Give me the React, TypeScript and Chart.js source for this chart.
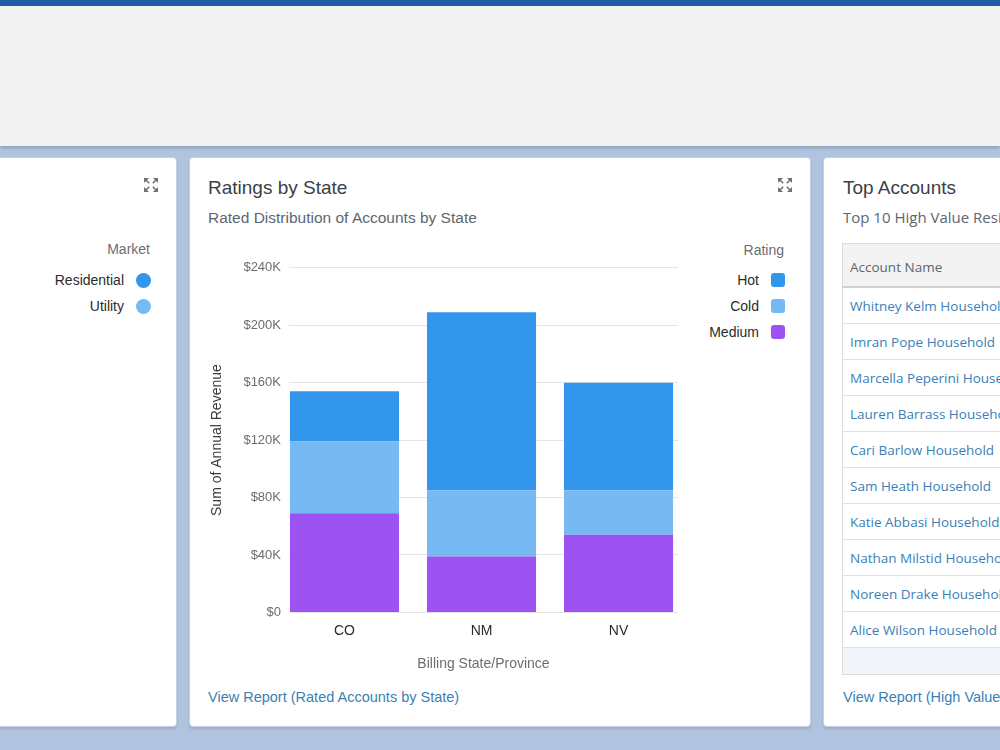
import React, { useEffect, useRef } from 'react';
import { Chart, registerables } from 'chart.js';

Chart.register(...registerables);

// ---- data ----
const categories = ['CO', 'NM', 'NV'];
const mediumValues = [69000, 39000, 54000];
const coldValues = [50000, 46000, 31000];
const hotValues = [35000, 124000, 75000];
const yTickValues = [0, 40000, 80000, 120000, 160000, 200000, 240000];
const ratingLegend = ['Hot', 'Cold', 'Medium'];
const ratingColors = ['#3296ED', '#77B9F2', '#9D53F2'];
const marketLegend = ['Residential', 'Utility'];
const marketColors = ['#3296ED', '#77B9F2'];
const accountNames = [
  'Whitney Kelm Household',
  'Imran Pope Household',
  'Marcella Peperini Household',
  'Lauren Barrass Household',
  'Cari Barlow Household',
  'Sam Heath Household',
  'Katie Abbasi Household',
  'Nathan Milstid Household',
  'Noreen Drake Household',
  'Alice Wilson Household',
];

const SANS = '"Liberation Sans", Arial, sans-serif';
const TABLE_FONT = '"Open Sans", "Noto Sans", sans-serif';
const LINK = '#3a7fb5';

function Txt(props: {
  x: number; y: number; size: number; color: string; text: string;
  align?: 'left' | 'right'; font?: string; weight?: number;
}) {
  const { x, y, size, color, text, align = 'left', font = SANS, weight = 400 } = props;
  const lh = Math.round(size * 1.25);
  const style: React.CSSProperties = {
    position: 'absolute',
    top: y - lh / 2,
    height: lh,
    lineHeight: lh + 'px',
    fontSize: size,
    fontFamily: font,
    fontWeight: weight,
    color,
    whiteSpace: 'nowrap',
  };
  if (align === 'left') style.left = x;
  else { style.right = 1000 - x; style.textAlign = 'right'; }
  return <div style={style}>{text}</div>;
}

function ExpandIcon({ cx, cy }: { cx: number; cy: number }) {
  const c = '#6f7174';
  return (
    <svg width={14} height={14} viewBox="0 0 14 14"
      style={{ position: 'absolute', left: cx - 7, top: cy - 7 }}>
      <polygon points="0,0 5,0 0,5" fill={c} />
      <polygon points="14,0 9,0 14,5" fill={c} />
      <polygon points="0,14 5,14 0,9" fill={c} />
      <polygon points="14,14 9,14 14,9" fill={c} />
      <line x1="1.5" y1="1.5" x2="5.2" y2="5.2" stroke={c} strokeWidth={1.6} />
      <line x1="12.5" y1="1.5" x2="8.8" y2="5.2" stroke={c} strokeWidth={1.6} />
      <line x1="1.5" y1="12.5" x2="5.2" y2="8.8" stroke={c} strokeWidth={1.6} />
      <line x1="12.5" y1="12.5" x2="8.8" y2="8.8" stroke={c} strokeWidth={1.6} />
    </svg>
  );
}

function Card({ left, width }: { left: number; width: number }) {
  return (
    <div style={{
      position: 'absolute', left, top: 157, width, height: 570,
      background: '#ffffff', borderRadius: 4, boxSizing: 'border-box',
      border: '1px solid #c6d2e2', boxShadow: '0 2px 2px rgba(60,80,110,0.18)',
    }} />
  );
}

function RatingsChart() {
  const ref = useRef<HTMLCanvasElement | null>(null);
  useEffect(() => {
    if (!ref.current) return;
    const toPoints = (vals: number[]) => vals.map((v, i) => ({ x: i, y: v }));
    const chart = new Chart(ref.current, {
      type: 'bar',
      data: {
        datasets: [
          { label: 'Medium', data: toPoints(mediumValues), backgroundColor: ratingColors[2] },
          { label: 'Cold', data: toPoints(coldValues), backgroundColor: ratingColors[1] },
          { label: 'Hot', data: toPoints(hotValues), backgroundColor: ratingColors[0] },
        ],
      },
      options: {
        animation: false,
        responsive: false,
        maintainAspectRatio: false,
        layout: { padding: 0 },
        datasets: { bar: { categoryPercentage: 1, barPercentage: 0.796 } },
        plugins: { legend: { display: false }, tooltip: { enabled: false } },
        scales: {
          x: {
            type: 'linear',
            stacked: true,
            offset: false,
            min: -0.405,
            max: 2.434,
            grid: { display: false, drawTicks: false },
            border: { display: false },
            afterBuildTicks: (s: any) => { s.ticks = categories.map((_, i) => ({ value: i })); },
            ticks: {
              padding: 10,
              color: '#2b2b2b',
              font: { family: SANS, size: 14 },
              callback: (v: any) => categories[Number(v)] ?? '',
            },
            title: {
              display: true,
              text: 'Billing State/Province',
              color: '#6b6d70',
              font: { family: SANS, size: 14 },
              padding: { top: 7, bottom: 2 },
            },
          },
          y: {
            stacked: true,
            min: 0,
            max: 240000,
            afterBuildTicks: (s: any) => { s.ticks = yTickValues.map((v) => ({ value: v })); },
            afterFit: (s: any) => { s.width = 84; },
            grid: { color: '#e4e4e4', drawTicks: false },
            border: { display: false },
            ticks: {
              padding: 8,
              color: '#6b6d70',
              font: { family: SANS, size: 13 },
              callback: (v: any) => (Number(v) === 0 ? '$0' : '$' + Number(v) / 1000 + 'K'),
            },
            title: {
              display: true,
              text: 'Sum of Annual Revenue',
              color: '#3a3a3a',
              font: { family: SANS, size: 14 },
              padding: { top: 4, bottom: 0 },
            },
          },
        },
      } as any,
    });
    return () => chart.destroy();
  }, []);
  return (
    <canvas ref={ref} width={473} height={423}
      style={{ position: 'absolute', left: 205, top: 252, width: 473, height: 423 }} />
  );
}

export default function App() {
  return (
    <div style={{
      position: 'fixed', left: 0, top: 0, width: 1000, height: 750,
      overflow: 'hidden', background: '#b0c4df', fontFamily: SANS,
    }}>
      {/* header band */}
      <div style={{ position: 'absolute', left: 0, top: 0, width: 1000, height: 6, background: '#1f5fa6' }} />
      <div style={{
        position: 'absolute', left: 0, top: 6, width: 1000, height: 140,
        background: '#f3f2f2', boxShadow: '0 2px 3px rgba(40,60,90,0.25)',
      }} />

      {/* cards */}
      <Card left={-12} width={189} />
      <Card left={189} width={622} />
      <Card left={823} width={200} />

      {/* left card (cut off) */}
      <ExpandIcon cx={151} cy={185} />
      <Txt x={150} y={249} size={14} color="#6b6d70" text="Market" align="right" />
      {marketLegend.map((m, i) => (
        <React.Fragment key={m}>
          <Txt x={124} y={280 + i * 26} size={14} color="#2b2b2b" text={m} align="right" />
          <div style={{
            position: 'absolute', left: 136, top: 273 + i * 26, width: 15, height: 15,
            borderRadius: '50%', background: marketColors[i],
          }} />
        </React.Fragment>
      ))}

      {/* middle card */}
      <Txt x={208} y={188} size={19} color="#3a4149" text="Ratings by State" />
      <Txt x={208} y={217} size={15.5} color="#5d6670" text="Rated Distribution of Accounts by State" />
      <ExpandIcon cx={785} cy={185} />
      <Txt x={784} y={250} size={14} color="#6b6d70" text="Rating" align="right" />
      {ratingLegend.map((r, i) => (
        <React.Fragment key={r}>
          <Txt x={759} y={280 + i * 26} size={14} color="#2b2b2b" text={r} align="right" />
          <div style={{
            position: 'absolute', left: 771, top: 273 + i * 26, width: 14, height: 14,
            borderRadius: 3, background: ratingColors[i],
          }} />
        </React.Fragment>
      ))}
      <RatingsChart />
      <Txt x={208} y={697} size={14.5} color={LINK} text="View Report (Rated Accounts by State)" />

      {/* right card */}
      <Txt x={843} y={188} size={19} color="#3a4149" text="Top Accounts" />
      <Txt x={843} y={217} size={15} color="#5d6670" text="Top 10 High Value Residential Accounts" font={TABLE_FONT} />
      <div style={{
        position: 'absolute', left: 842, top: 243, width: 200, height: 45,
        background: '#f3f3f3', borderTop: '1px solid #dddbda', borderLeft: '1px solid #dddbda',
        borderBottom: '2px solid #cfcfcf', boxSizing: 'border-box',
      }} />
      <Txt x={850} y={267} size={13.5} color="#5d6670" text="Account Name" font={TABLE_FONT} />
      {accountNames.map((n, i) => (
        <React.Fragment key={n}>
          <div style={{
            position: 'absolute', left: 842, top: 288 + i * 36, width: 200, height: 36,
            borderLeft: '1px solid #dddbda', borderBottom: '1px solid #e2e2e2', boxSizing: 'border-box',
            background: '#ffffff',
          }} />
          <Txt x={850} y={306 + i * 36} size={13.5} color={LINK} text={n} font={TABLE_FONT} />
        </React.Fragment>
      ))}
      <div style={{
        position: 'absolute', left: 842, top: 648, width: 200, height: 27,
        background: '#f2f5f9', borderLeft: '1px solid #dddbda', borderBottom: '1px solid #dddbda',
        boxSizing: 'border-box',
      }} />
      <Txt x={843} y={697} size={14.5} color={LINK} text="View Report (High Value Residential Accounts)" />
    </div>
  );
}
